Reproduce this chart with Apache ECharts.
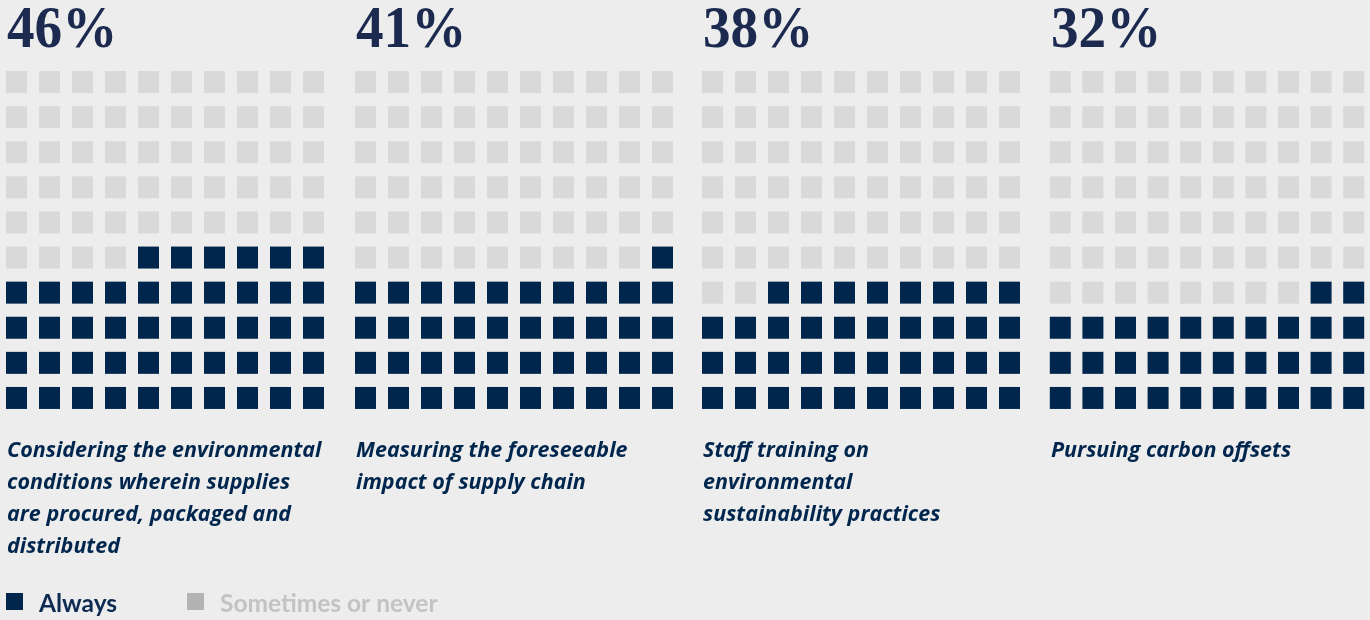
<!DOCTYPE html>
<html>
<head>
<meta charset="utf-8">
<title>Supply chain sustainability practices</title>
<script src="https://cdn.jsdelivr.net/npm/echarts@6/dist/echarts.min.js"></script>
<style>
  html, body { margin: 0; padding: 0; background: #ededed; }
  #chart { width: 1370px; height: 620px; }
</style>
</head>
<body>
<div id="chart"></div>
<script>
// Share of respondents that "always" follow each practice
const practices = [
  'Considering the environmental\nconditions wherein supplies\nare procured, packaged and\ndistributed',
  'Measuring the foreseeable\nimpact of supply chain',
  'Staff training on\nenvironmental\nsustainability practices',
  'Pursuing carbon offsets'
];
const alwaysPct = [46, 41, 38, 32];
const legendNames = ['Always', 'Sometimes or never'];

const NAVY = '#00264d';
const EMPTY = '#d9d9d9';
const cols = ['1','2','3','4','5','6','7','8','9','10'];
const rows = ['1','2','3','4','5','6','7','8','9','10'];

// Panel placement
const panelLeft = [0, 349, 696, 1044];
const gridTop = 64.5, gridW = 330, gridH = 351;

// Waffle cells fill from the bottom row upward, right to left within a row
function cells(pct, filled) {
  const out = [];
  for (let k = 0; k < 100; k++) {
    const r = Math.floor(k / 10);
    const c = 9 - (k % 10);
    if ((k < pct) === filled) out.push([c, r]);
  }
  return out;
}

const grid = [], xAxis = [], yAxis = [], series = [], graphic = [];
alwaysPct.forEach((pct, i) => {
  grid.push({ left: panelLeft[i], top: gridTop, width: gridW, height: gridH });
  xAxis.push({ type: 'category', data: cols, gridIndex: i, show: false });
  yAxis.push({ type: 'category', data: rows, gridIndex: i, show: false });
  series.push({
    name: legendNames[1], type: 'scatter', xAxisIndex: i, yAxisIndex: i,
    symbol: 'rect', symbolSize: [21, 22], itemStyle: { color: EMPTY, opacity: 1 },
    data: cells(pct, false), silent: true
  });
  series.push({
    name: legendNames[0], type: 'scatter', xAxisIndex: i, yAxisIndex: i,
    symbol: 'rect', symbolSize: [21, 22], itemStyle: { color: NAVY, opacity: 1 },
    data: cells(pct, true), silent: true
  });
  const x0 = panelLeft[i] + 6;
  graphic.push({
    type: 'text', x: x0 + 1, y: 31, scaleX: 0.92,
    style: {
      text: pct + '%', fill: '#1c2a50',
      font: 'bold 60px "Liberation Serif", serif',
      verticalAlign: 'middle', align: 'left'
    }
  });
  graphic.push({
    type: 'text', x: x0 + 1, y: 434.5,
    style: {
      text: practices[i], fill: NAVY,
      font: 'italic bold 21.5px "Open Sans", sans-serif',
      lineHeight: 32, verticalAlign: 'top', align: 'left'
    }
  });
});

// Legend
const legendItems = [
  { x: 6, color: NAVY, text: legendNames[0], textColor: '#0d2a52' },
  { x: 187, color: '#b3b3b3', text: legendNames[1], textColor: '#c3c3c3' }
];
legendItems.forEach(it => {
  graphic.push({ type: 'rect', shape: { x: it.x, y: 593, width: 17, height: 17 }, style: { fill: it.color } });
  graphic.push({
    type: 'text', x: it.x + 33, y: 604,
    style: { text: it.text, fill: it.textColor, font: 'bold 24.5px Lato, sans-serif', verticalAlign: 'middle', align: 'left' }
  });
});

const chart = echarts.init(document.getElementById('chart'));
chart.setOption({
  backgroundColor: '#ededed',
  animation: false,
  grid, xAxis, yAxis, series, graphic
});
</script>
</body>
</html>
